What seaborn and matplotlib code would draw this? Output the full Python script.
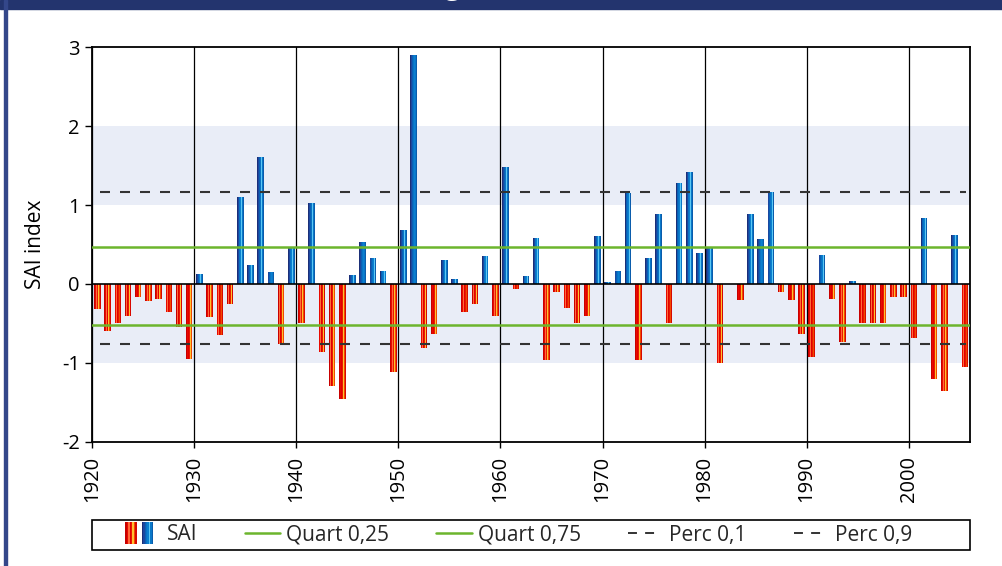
import numpy as np
import pandas as pd
import matplotlib
matplotlib.use('Agg')
import matplotlib.pyplot as plt
import seaborn as sns
from matplotlib.patches import Rectangle
from matplotlib.lines import Line2D
from matplotlib.legend_handler import HandlerBase

# --------------------------
# DATA
# --------------------------
years = list(range(1920, 2006))
sai = [
    -0.32, -0.60, -0.50, -0.41, -0.16, -0.21, -0.19, -0.35, -0.55, -0.95,   # 1920s
    0.13, -0.42, -0.65, -0.26, 1.10, 0.24, 1.61, 0.15, -0.76, 0.46,         # 1930s
    -0.50, 1.03, -0.86, -1.29, -1.46, 0.11, 0.53, 0.33, 0.16, -1.11,        # 1940s
    0.68, 2.90, -0.81, -0.63, 0.30, 0.06, -0.36, -0.26, 0.35, -0.40,        # 1950s
    1.48, -0.06, 0.10, 0.58, -0.96, -0.10, -0.31, -0.50, -0.41, 0.61,       # 1960s
    0.03, 0.17, 1.15, -0.97, 0.33, 0.89, -0.50, 1.28, 1.42, 0.39,           # 1970s
    0.46, -1.00, 0.00, -0.20, 0.89, 0.57, 1.16, -0.10, -0.20, -0.63,        # 1980s
    -0.93, 0.37, -0.19, -0.73, 0.04, -0.50, -0.50, -0.50, -0.16, -0.16,     # 1990s
    -0.68, 0.84, -1.20, -1.36, 0.62, -1.05,                                 # 2000s
]
quart_25 = -0.52
quart_75 = 0.47
perc_10 = -0.755
perc_90 = 1.165

legend_labels = ['SAI', 'Quart 0,25', 'Quart 0,75', 'Perc 0,1', 'Perc 0,9']
decades = list(range(1920, 2001, 10))

# --------------------------
# STYLE
# --------------------------
RED_STRIPES = ['#c80000', '#e80a00', '#ff6a3a', '#e00000', '#e81a00', '#ffc030', '#f04a00', '#d80800']
BLUE_STRIPES = ['#1b2f78', '#1c48a0', '#0a60b4', '#0a72c4', '#0a80d0', '#5cc8f4', '#0a78c8', '#0a5cac']
GREEN = '#6cb52d'
DASH = '#333333'
BAND = '#e9edf7'
NAVY = '#23346e'
BAR_W = 0.64

sns.set_style('white')
plt.rcParams['font.family'] = ['Open Sans', 'DejaVu Sans']
plt.rcParams['axes.unicode_minus'] = False

df = pd.DataFrame({'year': np.array(years) + 0.5, 'sai': sai})
df['sign'] = np.where(df['sai'] < 0, 'neg', 'pos')

fig = plt.figure(figsize=(10.03, 5.66), dpi=100)
ax = fig.add_axes([0.092, 0.2196, 0.875, 0.6968])

# bandes de fond
ax.axhspan(1, 2, color=BAND, zorder=0, lw=0)
ax.axhspan(-1, 0, color=BAND, zorder=0, lw=0)

# barres rayées (une tranche par couleur)
n = len(RED_STRIPES)
for i in range(n):
    off = -BAR_W / 2 + (i + 0.5) * BAR_W / n
    sns.barplot(x=df['year'] + off, y=df['sai'], hue=df['sign'],
                palette={'neg': RED_STRIPES[i], 'pos': BLUE_STRIPES[i]},
                native_scale=True, width=BAR_W / n, dodge=False, errorbar=None,
                saturation=1, linewidth=0, legend=False, ax=ax, zorder=3)

# lignes de référence
ax.axhline(quart_25, color=GREEN, lw=1.8, zorder=4)
ax.axhline(quart_75, color=GREEN, lw=1.8, zorder=4)
ax.axhline(perc_10, color=DASH, lw=1.5, ls=(0, (4.8, 4.8)), xmin=0.009, xmax=0.995, zorder=4)
ax.axhline(perc_90, color=DASH, lw=1.5, ls=(0, (4.8, 4.8)), xmin=0.009, xmax=0.995, zorder=4)
ax.axhline(0, color='black', lw=1.2, zorder=5)

# axes
ax.set_xlim(1920, 2006)
ax.set_ylim(-2, 3)
ax.set_xticks(decades)
ax.set_xticklabels([str(d) for d in decades], rotation=90)
ax.set_yticks(range(-2, 4))
ax.grid(axis='x', color='black', lw=0.9, zorder=1)
ax.grid(axis='y', visible=False)
ax.set_axisbelow(True)
ax.tick_params(axis='x', bottom=True, length=4, width=1, color='black',
               labelsize=14.5, labelcolor='black', direction='out', pad=6)
ax.tick_params(axis='y', left=True, length=5, width=1, color='black',
               labelsize=14.5, labelcolor='black', direction='out', pad=4)
for sp in ax.spines.values():
    sp.set_color('black')
    sp.set_linewidth(1.3)
ax.set_xlabel('')
ax.set_ylabel('SAI index', fontsize=15, color='black')
ax.yaxis.set_label_coords(-0.053, 0.5)


# --------------------------
# LEGENDE
# --------------------------
class SAIKey:
    pass


class StripeHandler(HandlerBase):
    def create_artists(self, legend, orig_handle, xdescent, ydescent, width, height, fontsize, trans):
        arts = []
        bw = width * 0.32
        y0 = -ydescent - height * 0.25
        h = height * 1.55
        for x0, cols in [(0, RED_STRIPES), (width * 0.46, BLUE_STRIPES)]:
            sw = bw / len(cols)
            for k, c in enumerate(cols):
                r = Rectangle((x0 - xdescent + k * sw, y0), sw * 1.05, h, facecolor=c,
                              edgecolor='none', transform=trans)
                arts.append(r)
        return arts


handles = [
    SAIKey(),
    Line2D([], [], color=GREEN, lw=1.8),
    Line2D([], [], color=GREEN, lw=1.8),
    Line2D([], [], color=DASH, lw=1.4, ls=(0, (4.6, 4.2, 4.6, 20))),
    Line2D([], [], color=DASH, lw=1.4, ls=(0, (4.6, 4.2, 4.6, 20))),
]
fig.legend(handles=handles, labels=legend_labels, handler_map={SAIKey: StripeHandler()},
           loc='center', bbox_to_anchor=(519 / 1003, 1 - 535 / 566), ncol=5, frameon=False,
           fontsize=15, handlelength=1.7, handletextpad=0.3, columnspacing=2.25)
fig.add_artist(Rectangle((92 / 1003, 16 / 566), 878 / 1003, 30 / 566, transform=fig.transFigure,
                         fill=False, edgecolor='black', lw=1.2))

# bandeau et bordure
fig.add_artist(Rectangle((0, 1 - 8.5 / 566), 1, 8.5 / 566, transform=fig.transFigure,
                         color=NAVY, zorder=10))
fig.add_artist(Rectangle((4 / 1003, 0), 3.5 / 1003, 1, transform=fig.transFigure,
                         color='#34478a', zorder=10))
fig.text(0.451, 1.011, 'g', color='white', fontsize=20, fontweight='bold',
         ha='center', va='baseline', zorder=11)

fig.savefig('out.png', dpi=100)
